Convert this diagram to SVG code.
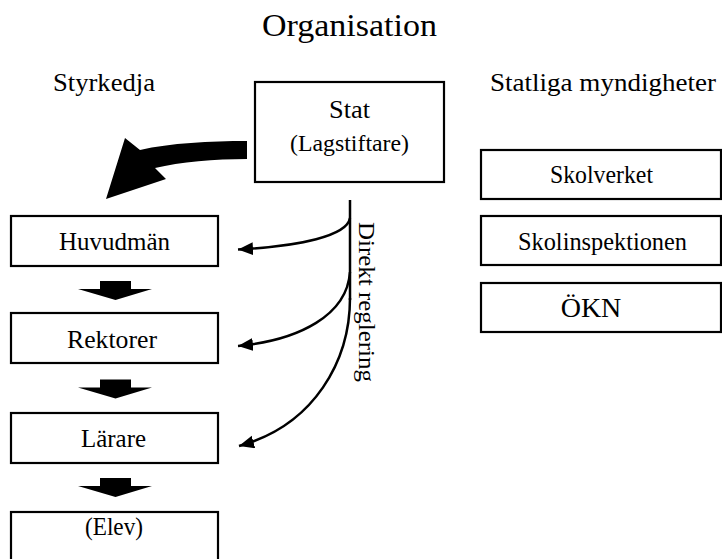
<svg xmlns="http://www.w3.org/2000/svg" width="722" height="559" viewBox="0 0 722 559">
<style>
text{font-family:"Liberation Serif","Times New Roman",serif;fill:#000;}
.box{fill:#fff;stroke:#000;stroke-width:2.2;}
.t{font-size:24.5px;}
.h{font-size:26px;}
.line{fill:none;stroke:#000;stroke-width:2.5;}
</style>
<defs>
<marker id="ah" markerUnits="userSpaceOnUse" markerWidth="16" markerHeight="14" refX="15" refY="6.5" orient="auto">
<path d="M0,0 L15,6.5 L0,13 Z" fill="#000"/>
</marker>
<path id="down" d="M100,281 H131 V289 H152 L115.5,300 L78,289 H100 Z" fill="#000"/>
</defs>
<rect width="722" height="559" fill="#fff"/>
<text x="349.5" y="36" font-size="32" text-anchor="middle" textLength="175" lengthAdjust="spacingAndGlyphs">Organisation</text>
<text class="h" x="53" y="91" textLength="102" lengthAdjust="spacingAndGlyphs">Styrkedja</text>
<text class="h" x="490" y="91" textLength="226" lengthAdjust="spacingAndGlyphs">Statliga myndigheter</text>
<g id="stat">
<rect class="box" x="255" y="82" width="189" height="100"/>
<text x="349.5" y="118" font-size="25" text-anchor="middle" textLength="41" lengthAdjust="spacingAndGlyphs">Stat</text>
<text x="349.5" y="151" font-size="23" text-anchor="middle" textLength="119" lengthAdjust="spacingAndGlyphs">(Lagstiftare)</text>
</g>
<g id="huvudman">
<rect class="box" x="11" y="216" width="207" height="50"/>
<text class="t" x="59" y="250" textLength="111" lengthAdjust="spacingAndGlyphs">Huvudmän</text>
</g>
<g id="rektorer">
<rect class="box" x="11" y="313" width="207" height="50"/>
<text class="t" x="67" y="348" textLength="90" lengthAdjust="spacingAndGlyphs">Rektorer</text>
</g>
<g id="larare">
<rect class="box" x="11" y="413" width="207" height="50"/>
<text class="t" x="81" y="447" textLength="65" lengthAdjust="spacingAndGlyphs">Lärare</text>
</g>
<g id="elev">
<rect class="box" x="11" y="512" width="207" height="60"/>
<text class="t" x="85" y="535" textLength="58" lengthAdjust="spacingAndGlyphs">(Elev)</text>
</g>
<g id="skolverket">
<rect class="box" x="481" y="150" width="240" height="49"/>
<text class="t" x="550" y="183" textLength="103" lengthAdjust="spacingAndGlyphs">Skolverket</text>
</g>
<g id="skolinspektionen">
<rect class="box" x="481" y="216" width="240" height="49"/>
<text class="t" x="518" y="250" textLength="169" lengthAdjust="spacingAndGlyphs">Skolinspektionen</text>
</g>
<g id="okn">
<rect class="box" x="481" y="283" width="240" height="49"/>
<text x="591" y="317" font-size="28" text-anchor="middle">ÖKN</text>
</g>
<g id="connectors">
<path d="M247,141 C210,141 170,143 140,150 L125,138 L106,199 L166,179 L155,168 C180,162 215,159 247,159 Z" fill="#000"/>
<use href="#down"/>
<use href="#down" transform="translate(0,98.5)"/>
<use href="#down" transform="translate(0,197)"/>
<line class="line" x1="350" y1="200" x2="350" y2="300"/>
<path class="line" d="M350,218 C347,236 300,246 238,249.5" marker-end="url(#ah)"/>
<path class="line" d="M350,272 C347,315 300,340 238,346" marker-end="url(#ah)"/>
<path class="line" d="M350,298 C350,360 315,425 239,446" marker-end="url(#ah)"/>
<text transform="translate(359,222) rotate(90)" font-size="23" textLength="160" lengthAdjust="spacingAndGlyphs">Direkt reglering</text>
</g>
</svg>
